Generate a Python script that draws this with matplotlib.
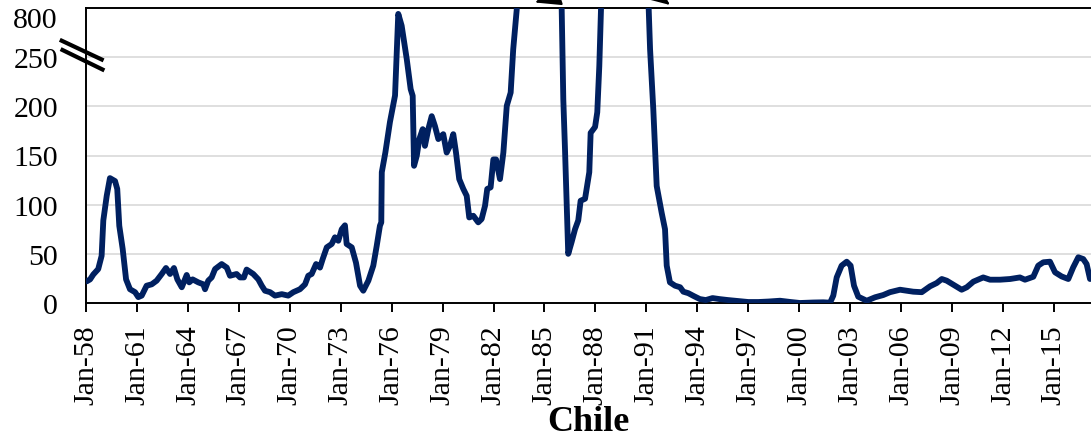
import matplotlib
matplotlib.use("Agg")
import matplotlib.pyplot as plt
from matplotlib.patches import FancyArrowPatch
from matplotlib.lines import Line2D
from matplotlib.transforms import blended_transform_factory

# ---------------- data ----------------
years = [
    1958.04, 1958.24, 1958.43, 1958.72, 1958.92, 1959.02, 1959.22, 1959.41, 1959.71, 1959.84, 1959.96,
    1960.16, 1960.36, 1960.59, 1960.89, 1961.08, 1961.28, 1961.57, 1961.87, 1962.16, 1962.46, 1962.71, 1962.95,
    1963.18, 1963.38, 1963.64, 1963.93, 1964.08, 1964.28, 1964.61, 1964.91, 1965.01, 1965.20, 1965.40, 1965.60,
    1965.99, 1966.29, 1966.48, 1966.87, 1967.07, 1967.30, 1967.46, 1967.85, 1968.15, 1968.35, 1968.54, 1968.84,
    1969.13, 1969.53, 1969.91, 1970.21, 1970.60, 1970.90, 1971.09, 1971.29, 1971.55, 1971.78, 1971.94, 1972.18,
    1972.47, 1972.66, 1972.86, 1973.06, 1973.25, 1973.35, 1973.65, 1973.90, 1974.14, 1974.33, 1974.63, 1974.92,
    1975.12, 1975.31, 1975.39, 1975.42, 1975.63, 1975.90, 1976.20, 1976.39, 1976.59, 1976.89, 1977.12, 1977.24,
    1977.32, 1977.48, 1977.63, 1977.83, 1977.96, 1978.16, 1978.36, 1978.55, 1978.75, 1979.04, 1979.24, 1979.44,
    1979.63, 1979.79, 1979.98, 1980.22, 1980.42, 1980.57, 1980.81, 1981.10, 1981.30, 1981.50, 1981.63, 1981.83,
    1981.99, 1982.15, 1982.38, 1982.58, 1982.78, 1983.01, 1983.16, 1983.37,
    1983.60, 1984.30, 1985.20, 1985.92,
    1986.11, 1986.21, 1986.31, 1986.40, 1986.60, 1986.80, 1986.99, 1987.13, 1987.39, 1987.64, 1987.72, 1987.98,
    1988.11, 1988.23, 1988.33,
    1988.55, 1989.30, 1990.20, 1990.90,
    1991.22, 1991.41, 1991.61, 1991.90, 1992.10, 1992.20, 1992.39, 1992.69, 1992.99, 1993.18, 1993.47,
    1993.80, 1994.15, 1994.50, 1994.90, 1995.30, 1995.80, 1996.40, 1997.00, 1997.60, 1998.20, 1998.87, 1999.50,
    2000.05, 2000.83, 2001.42, 2001.82, 2002.01, 2002.21, 2002.50, 2002.80, 2003.03, 2003.23, 2003.48, 2003.98,
    2004.47, 2004.95, 2005.35, 2005.94, 2006.72, 2007.22, 2007.71, 2008.10, 2008.40, 2008.69, 2009.18, 2009.57,
    2009.87, 2010.26, 2010.84, 2011.24, 2011.83, 2012.42, 2013.00, 2013.30, 2013.79, 2014.08, 2014.38, 2014.77,
    2015.07, 2015.46, 2015.85, 2016.14, 2016.44, 2016.73, 2016.93, 2017.13,
]
values = [
    22, 24, 29, 34.5, 48, 84, 109, 127, 124, 116, 78.5,
    55, 24, 14, 11, 6, 7.5, 17.6, 19, 22.7, 29.5, 35.6, 29.5,
    35.6, 24, 16, 28.5, 21, 24, 21, 19, 14, 22.7, 26, 34.5,
    39.6, 36, 27.7, 29.5, 26, 26, 34, 29.5, 24, 17.6, 12.5, 11,
    7.5, 9, 7.5, 11, 14, 19, 27.7, 29.5, 39.6, 36, 44.7, 56.6,
    60, 66.8, 63.3, 75, 79, 60, 56.6, 41, 17.6, 12.5, 22.7, 38,
    58, 78.5, 82, 133, 153, 184, 211, 294, 282, 248, 217.5, 210.7,
    139.5, 149.7, 166.7, 176.8, 159.8, 176.8, 190, 180, 166.7, 171.7, 153, 160,
    171.7, 153, 126, 116, 109, 87, 88.7, 82, 85.4, 98.9, 116, 117.6,
    146, 146, 126, 153, 200.5, 214, 258, 299,
    480, 650, 600, 390,
    207, 156, 99, 50, 62, 75, 84, 104, 106, 133, 173, 179,
    194, 241, 299,
    520, 700, 650, 420,
    258, 197, 119, 92, 75, 38, 21, 17.6, 16, 11.5, 10,
    7, 4, 3, 5, 4, 3, 2, 1, 1, 1.5, 2.3, 1,
    0, 0.5, 0.7, 0.3, 7.5, 26, 38, 42, 38, 17.6, 6.4, 2.3,
    5.8, 8.1, 11, 13.5, 11.5, 11, 17, 20.3, 24.4, 22.7, 17.6, 13.5,
    16, 21.7, 26, 23.7, 23.7, 24.4, 26, 23.7, 26.7, 38, 41.4, 42,
    31.2, 27, 24.4, 36.3, 46.5, 44.7, 39.6, 24.4,
]
tick_years = list(range(1958, 2016, 3))
tick_labels = ["Jan-%02d" % (y % 100) for y in tick_years]
ytick_vals = [0, 50, 100, 150, 200, 250]
ytick_labels = ["0", "50", "100", "150", "200", "250"]
top_label = "800"
title = "Chile"

# ---------------- figure ----------------
plt.rcParams["font.family"] = ["Liberation Serif", "DejaVu Serif"]
W, H = 1091, 439
fig = plt.figure(figsize=(W / 100, H / 100), dpi=100)
ax = fig.add_axes([86 / W, 1 - 304 / H, 1005 / W, 295 / H])

ax.plot(years, values, color="#002060", lw=4.2,
        solid_joinstyle="round", solid_capstyle="round", zorder=3)

ax.set_xlim(1958, 1958 + 1005 / 16.98)
ax.set_ylim(0, 300)
ax.set_yticks(ytick_vals)
ax.set_yticklabels(ytick_labels)
ax.set_xticks(tick_years)
ax.set_xticklabels(tick_labels, rotation=90)
ax.grid(axis="y", color="#D9D9D9", lw=1.2)
ax.set_axisbelow(True)
ax.tick_params(axis="y", length=0, pad=20, labelsize=21.5)
ax.tick_params(axis="x", length=6.5, width=1.4, pad=9, labelsize=21.5,
               direction="out", color="black")
for s in ["top", "left", "bottom"]:
    ax.spines[s].set_color("black")
    ax.spines[s].set_linewidth(1.4)
ax.spines["right"].set_visible(False)

# top label of broken axis
tr = blended_transform_factory(ax.transAxes, ax.transData)
ax.text(-28 / 1005, 291, top_label, transform=tr, ha="right",
        va="center_baseline", fontsize=21.5)

# axis-break marks
for (x1, y1, x2, y2) in [(61.7, 41.7, 101.7, 60.5), (62.5, 51.0, 102.5, 70.5)]:
    fig.add_artist(Line2D([x1 / W, x2 / W], [1 - y1 / H, 1 - y2 / H],
                          transform=fig.transFigure, color="black", lw=3))

# arrows pointing to off-scale peaks (coming from above the figure)
for tip in [(535, 3.5), (670, 6)]:
    fig.add_artist(FancyArrowPatch((628 / W, 1 + 27 / H), (tip[0] / W, 1 - tip[1] / H),
                                   transform=fig.transFigure,
                                   arrowstyle="-|>,head_length=0.8,head_width=0.35",
                                   mutation_scale=20, color="black", lw=1.5,
                                   shrinkA=0, shrinkB=0))

fig.text((86 + 1091) / 2 / W, 8 / H, title, ha="center", va="baseline",
         fontsize=26, fontweight="bold")

fig.savefig("out.png", dpi=100)
